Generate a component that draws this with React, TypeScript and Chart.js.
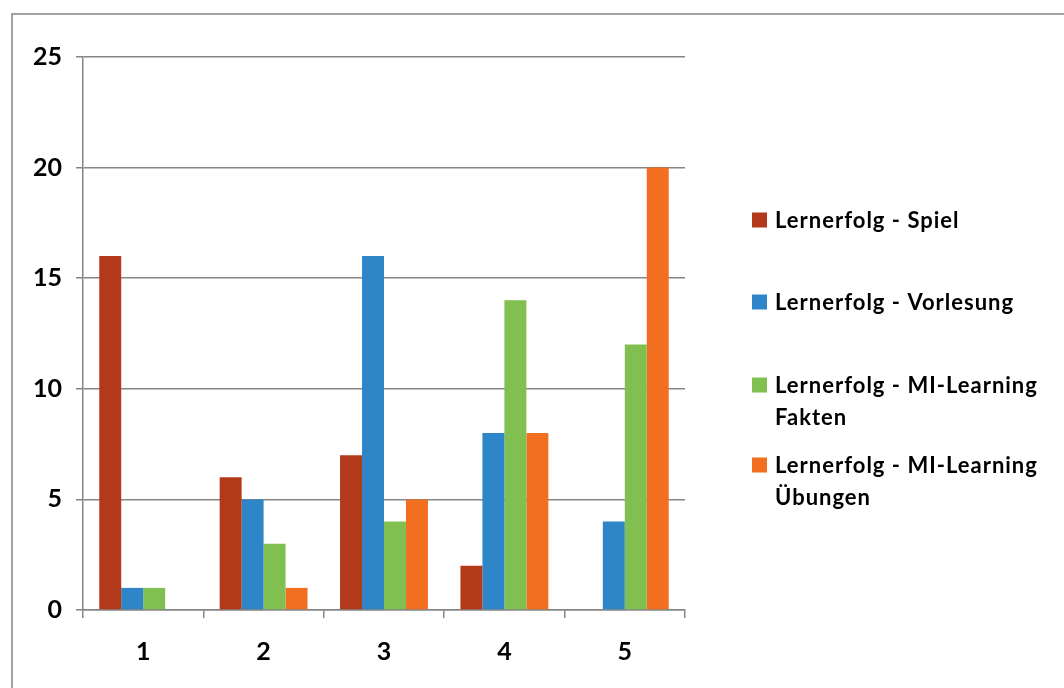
import React, { useEffect, useRef } from 'react';
import { Chart, registerables } from 'chart.js';

Chart.register(...registerables);

const categories = ['1', '2', '3', '4', '5'];
const seriesLabels = [
  ['Lernerfolg - Spiel'],
  ['Lernerfolg - Vorlesung'],
  ['Lernerfolg - MI-Learning', 'Fakten'],
  ['Lernerfolg - MI-Learning', 'Übungen'],
];
const spielValues = [16, 6, 7, 2, 0];
const vorlesungValues = [1, 5, 16, 8, 4];
const faktenValues = [1, 3, 4, 14, 12];
const uebungenValues = [0, 1, 5, 8, 20];
const yMin = 0;
const yMax = 25;
const yStep = 5;

const seriesColors = ['#B23A1B', '#2E86C9', '#80BF50', '#F26F21'];

const FONT = 'Lato, "Open Sans", sans-serif';

const framePlugin = {
  id: 'frame',
  beforeDraw(chart: any) {
    const ctx = chart.ctx;
    ctx.save();
    ctx.fillStyle = '#ffffff';
    ctx.fillRect(0, 0, chart.width, chart.height);
    ctx.strokeStyle = '#a2a2a2';
    ctx.lineWidth = 2;
    ctx.beginPath();
    ctx.moveTo(12, chart.height + 5);
    ctx.lineTo(12, 14);
    ctx.lineTo(chart.width + 5, 14);
    ctx.stroke();
    ctx.restore();
  },
};

const legendCenters = [220, 302, 385, 465];

const customLegendPlugin = {
  id: 'customLegend',
  afterDraw(chart: any) {
    const ctx = chart.ctx;
    ctx.save();
    ctx.font = `bold 22px ${FONT}`;
    try {
      (ctx as any).letterSpacing = '1px';
    } catch (e) {
      /* ignore */
    }
    ctx.textBaseline = 'middle';
    ctx.textAlign = 'left';
    chart.data.datasets.forEach((ds: any, i: number) => {
      const cy = legendCenters[i];
      ctx.fillStyle = ds.backgroundColor;
      ctx.fillRect(752, cy - 7.5, 15, 15);
      ctx.fillStyle = '#000000';
      const lines: string[] = seriesLabels[i];
      lines.forEach((line, k) => {
        ctx.fillText(line, 775, cy + 1 + k * 32);
      });
    });
    ctx.restore();
  },
};

export default function App() {
  const canvasRef = useRef<HTMLCanvasElement | null>(null);

  useEffect(() => {
    const canvas = canvasRef.current;
    if (!canvas) return;
    const valueSets = [spielValues, vorlesungValues, faktenValues, uebungenValues];
    const chart = new Chart(canvas, {
      type: 'bar',
      data: {
        labels: categories,
        datasets: valueSets.map((vals, i) => ({
          label: seriesLabels[i].join(' '),
          data: vals,
          backgroundColor: seriesColors[i],
          borderWidth: 0,
          barPercentage: 1,
          categoryPercentage: 0.73,
        })),
      },
      options: {
        responsive: false,
        animation: false,
        layout: { padding: { left: 0, top: 57, right: 379, bottom: 0 } },
        plugins: {
          legend: { display: false },
          tooltip: { enabled: false },
          title: { display: false },
        },
        scales: {
          x: {
            grid: {
              display: true,
              drawOnChartArea: false,
              drawTicks: true,
              tickLength: 8,
              color: '#858585',
              lineWidth: 1.5,
              offset: true,
            },
            border: { display: true, color: '#858585', width: 1.5 },
            ticks: {
              font: { family: FONT, size: 25, weight: 'bold' },
              color: '#000000',
              padding: 19,
            },
            afterFit(scale: any) {
              scale.height = 78;
            },
          },
          y: {
            min: yMin,
            max: yMax,
            grid: {
              color: '#858585',
              lineWidth: 1.5,
              drawTicks: true,
              tickLength: 7,
            },
            border: { display: true, color: '#858585', width: 1.5 },
            ticks: {
              stepSize: yStep,
              font: { family: FONT, size: 25, weight: 'bold' },
              color: '#000000',
              padding: 14,
            },
            afterFit(scale: any) {
              scale.width = 83;
            },
          },
        },
      },
      plugins: [framePlugin, customLegendPlugin],
    });
    return () => chart.destroy();
  }, []);

  return (
    <div style={{ position: 'fixed', left: 0, top: 0, width: 1064, height: 688, background: '#fff' }}>
      <canvas ref={canvasRef} width={1064} height={688} style={{ width: 1064, height: 688, display: 'block' }} />
    </div>
  );
}
